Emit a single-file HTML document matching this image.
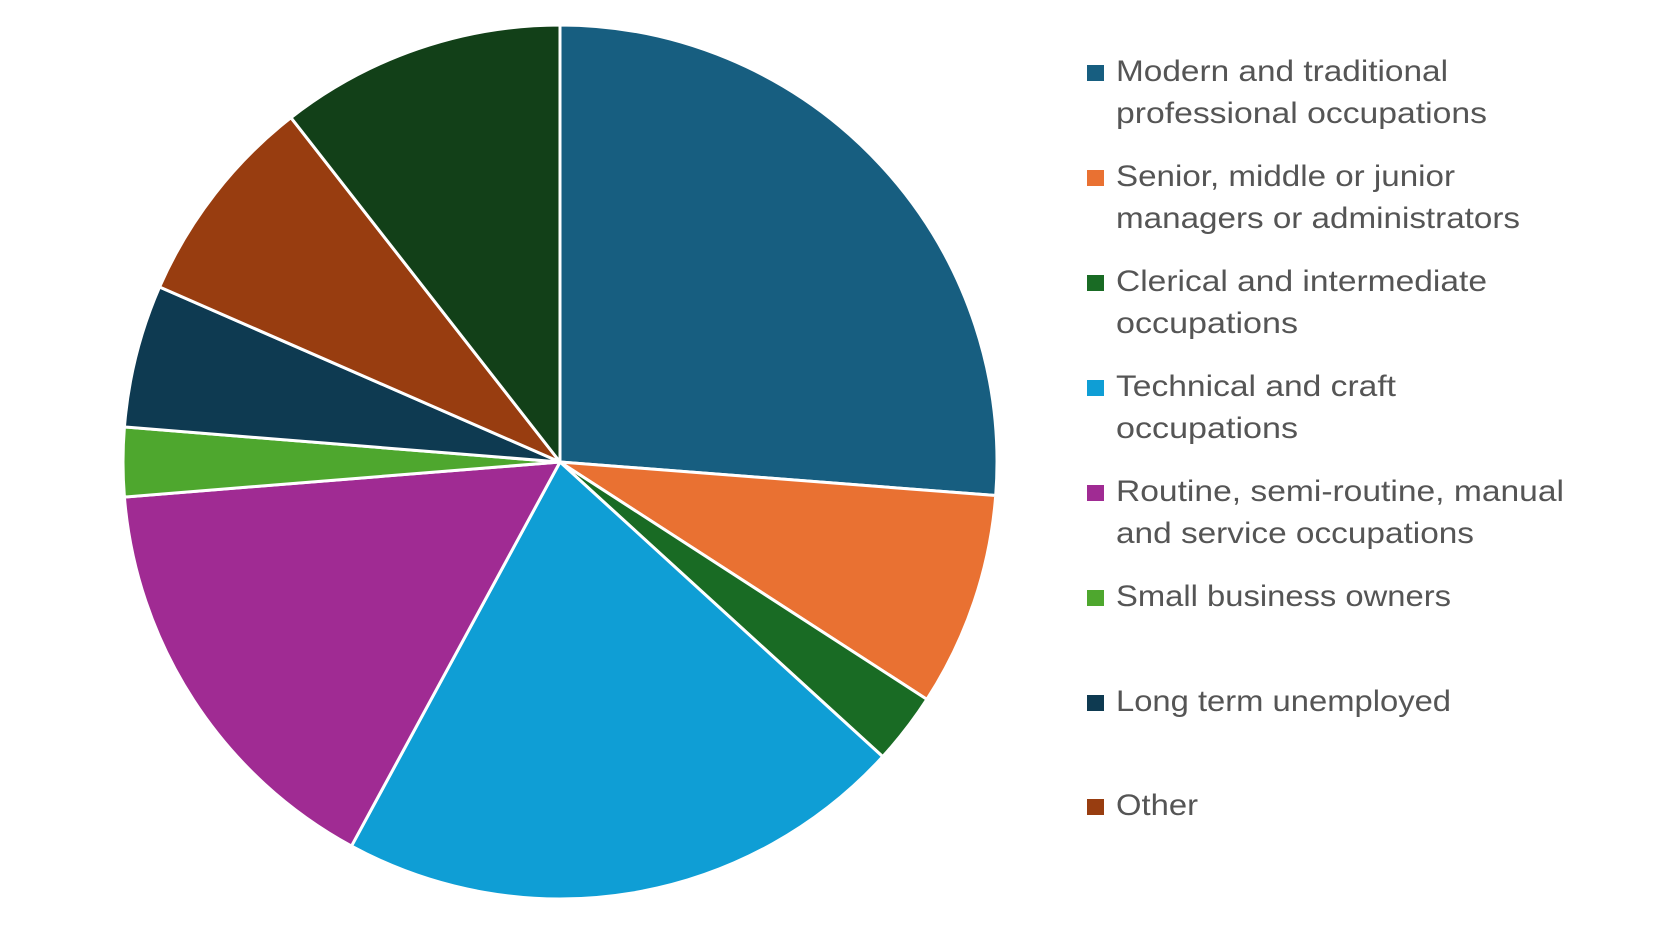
<!DOCTYPE html>
<html><head><meta charset="utf-8"><style>
html,body{margin:0;padding:0;background:#fff;}
svg{display:block;}
text{font-family:"Liberation Sans",sans-serif;font-size:30px;fill:#555555;}
</style></head><body>
<svg width="1656" height="933" viewBox="0 0 1656 933" xmlns="http://www.w3.org/2000/svg">
<g id="pie" stroke="#fff" stroke-width="3" stroke-linejoin="round"></g>
<g>
<rect x="1087" y="65" width="17" height="16" fill="#175e80"/>
<text x="1116" y="81" textLength="332" lengthAdjust="spacingAndGlyphs">Modern and traditional</text>
<text x="1116" y="123" textLength="371" lengthAdjust="spacingAndGlyphs">professional occupations</text>
<rect x="1087" y="170" width="17" height="16" fill="#e97132"/>
<text x="1116" y="186" textLength="339" lengthAdjust="spacingAndGlyphs">Senior, middle or junior</text>
<text x="1116" y="228" textLength="404" lengthAdjust="spacingAndGlyphs">managers or administrators</text>
<rect x="1087" y="275" width="17" height="16" fill="#196b24"/>
<text x="1116" y="291" textLength="371" lengthAdjust="spacingAndGlyphs">Clerical and intermediate</text>
<text x="1116" y="333" textLength="182" lengthAdjust="spacingAndGlyphs">occupations</text>
<rect x="1087" y="380" width="17" height="16" fill="#0f9ed5"/>
<text x="1116" y="396" textLength="280" lengthAdjust="spacingAndGlyphs">Technical and craft</text>
<text x="1116" y="438" textLength="182" lengthAdjust="spacingAndGlyphs">occupations</text>
<rect x="1087" y="485" width="17" height="16" fill="#a02b93"/>
<text x="1116" y="501" textLength="448" lengthAdjust="spacingAndGlyphs">Routine, semi-routine, manual</text>
<text x="1116" y="543" textLength="358" lengthAdjust="spacingAndGlyphs">and service occupations</text>
<rect x="1087" y="590" width="17" height="16" fill="#4ea72e"/>
<text x="1116" y="606" textLength="335" lengthAdjust="spacingAndGlyphs">Small business owners</text>
<rect x="1087" y="695" width="17" height="16" fill="#0e3a51"/>
<text x="1116" y="711" textLength="335" lengthAdjust="spacingAndGlyphs">Long term unemployed</text>
<rect x="1087" y="799" width="17" height="16" fill="#983d10"/>
<text x="1116" y="815" textLength="82" lengthAdjust="spacingAndGlyphs">Other</text>
</g>
</svg>
<script>
(function(){
var cx=560,cy=462,r=437;
var b=[0,94.4,122.9,132.4,208.5,265.4,274.6,293.6,322,360];
var c=["#175e80","#e97132","#196b24","#0f9ed5","#a02b93","#4ea72e","#0e3a51","#983d10","#124018"];
var g=document.getElementById("pie"),ns="http://www.w3.org/2000/svg";
function pt(a){var t=a*Math.PI/180;return [cx+r*Math.sin(t),cy-r*Math.cos(t)];}
for(var i=0;i<9;i++){
var p1=pt(b[i]),p2=pt(b[i+1]),large=(b[i+1]-b[i])>180?1:0;
var p=document.createElementNS(ns,"path");
p.setAttribute("d","M"+cx+","+cy+" L"+p1[0].toFixed(2)+","+p1[1].toFixed(2)+" A"+r+","+r+" 0 "+large+" 1 "+p2[0].toFixed(2)+","+p2[1].toFixed(2)+" Z");
p.setAttribute("fill",c[i]);g.appendChild(p);}
})();
</script>
</body></html>
